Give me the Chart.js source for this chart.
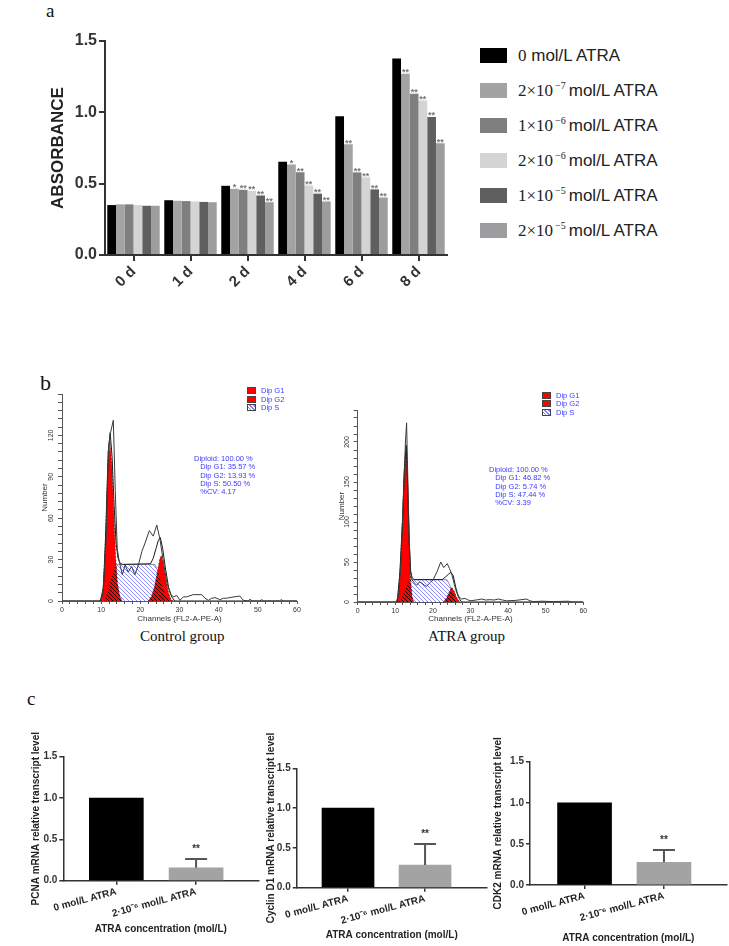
<!DOCTYPE html>
<html>
<head>
<meta charset="utf-8">
<title>ATRA proliferation figure</title>
<script src="https://cdn.jsdelivr.net/npm/chart.js@4.4.1/dist/chart.umd.min.js"></script>
<style>
  html,body{margin:0;padding:0;background:#fff;}
  body{position:relative;width:729px;height:946px;overflow:hidden;font-family:"Liberation Sans",Arial,sans-serif;}
  canvas{position:absolute;}
  .tag{position:absolute;font-family:"Liberation Serif","Times New Roman",serif;color:#111;line-height:1;}
  .leg{position:absolute;left:480px;height:16px;font-size:17px;color:#222;white-space:nowrap;line-height:16px;}
  .leg i{position:absolute;left:0;top:0;width:27px;height:15px;}
  .leg span{position:absolute;left:38px;top:0;}
  .leg b{font-family:"Liberation Serif","Times New Roman",serif;font-weight:normal;}
  .leg sup{font-size:10px;vertical-align:7px;line-height:0;font-family:"Liberation Serif",serif;margin:0 3px 0 2px;}
  .fc{position:absolute;font-size:7.5px;color:#3a3aff;line-height:8.3px;white-space:pre;}
  .fcl{position:absolute;font-size:7.5px;color:#3a3aff;line-height:8.5px;white-space:nowrap;}
  .fcl i{position:absolute;left:0;width:9px;height:7px;border:1px solid #444;box-sizing:border-box;}
  .cap{position:absolute;font-family:"Liberation Serif","Times New Roman",serif;font-size:15px;color:#111;white-space:nowrap;line-height:1;}
</style>
</head>
<body>
<div class="tag" style="left:46px;top:1px;font-size:19px;">a</div>
<canvas id="absChart" width="450" height="320" style="left:0;top:0"></canvas>
<div id="absLegend"></div>

<div class="tag" style="left:40px;top:372px;font-size:22px;">b</div>
<canvas id="ctrlHist" width="290" height="245" style="left:20px;top:380px"></canvas>
<canvas id="atraHist" width="290" height="245" style="left:310px;top:380px"></canvas>
<div id="ctrlLeg"></div><div id="atraLeg"></div>
<div id="ctrlStat" class="fc" style="left:194px;top:455px"></div>
<div id="atraStat" class="fc" style="left:489px;top:466px"></div>
<div class="cap" style="left:140px;top:629px">Control group</div>
<div class="cap" style="left:428px;top:629px">ATRA group</div>

<div class="tag" style="left:27px;top:689px;font-size:19px;">c</div>
<canvas id="pcnaChart" width="245" height="216" style="left:20px;top:730px"></canvas>
<canvas id="cycChart" width="240" height="216" style="left:250px;top:730px"></canvas>
<canvas id="cdkChart" width="249" height="216" style="left:480px;top:730px"></canvas>

<script>
// ---- panel a: absorbance (CCK-8) ----
const days = ['0 d', '1 d', '2 d', '4 d', '6 d', '8 d'];
const doseCoef = ['0', '2×10', '1×10', '2×10', '1×10', '2×10'];
const doseExp = ['', '−7', '−6', '−6', '−5', '−5'];
const abs0   = [0.35, 0.384, 0.485, 0.654, 0.973, 1.378];
const abs2e7 = [0.355, 0.38, 0.464, 0.635, 0.776, 1.27];
const abs1e6 = [0.355, 0.378, 0.457, 0.58, 0.579, 1.13];
const abs2e6 = [0.35, 0.375, 0.45, 0.487, 0.544, 1.083];
const abs1e5 = [0.345, 0.372, 0.417, 0.43, 0.46, 0.968];
const abs2e5 = [0.345, 0.37, 0.37, 0.375, 0.403, 0.783];
const sig0   = ['', '', '', '', '', ''];
const sig2e7 = ['', '', '*', '*', '**', '**'];
const sig1e6 = ['', '', '**', '**', '**', '**'];
const sig2e6 = ['', '', '**', '**', '**', '**'];
const sig1e5 = ['', '', '**', '**', '**', '**'];
const sig2e5 = ['', '', '**', '**', '**', '**'];

// ---- panel b: DNA content histograms, [channel, count] ----
const ctrlRaw = [[0,0],[9.6,0],[10.4,4],[11.2,40],[11.9,112],[12.4,122],[13.1,131],[13.6,80],[14.1,38],[14.6,29],[15.4,19],[16.1,26],[16.9,21],[17.8,25],[18.6,19],[19.5,26],[20.4,36],[21.2,42],[22.3,51],[23.3,47],[24.2,55],[25.0,45],[25.9,28],[26.8,13],[27.7,5],[28.4,3],[29.3,4],[30.1,0.5],[31.0,3],[31.8,3],[33.5,4.6],[35.7,4.6],[36.5,2],[37.4,0.5],[38.2,2],[39.1,2.4],[40.3,1],[41.2,2],[42.0,2],[43.7,2.9],[45.4,3.6],[46.3,0.5],[47.5,0],[48.0,1.2],[48.6,0],[50.5,0],[51.0,1],[51.5,0],[55.5,0],[56.0,1],[56.5,0],[60,0]];
const ctrlFit = [[0,0],[9.8,0],[10.6,10],[11.2,52],[11.8,108],[12.3,122],[12.8,104],[13.3,70],[13.8,42],[14.3,31],[14.8,27.5],[15.5,26.5],[22.6,27],[23.3,31],[24.0,38],[24.6,44],[25.1,46],[25.7,38],[26.4,24],[27.2,10],[28.0,3],[28.8,0],[60,0]];
const ctrlG1 = [[9.9,0],[10.5,8],[11.1,45],[11.7,100],[12.25,115],[12.7,100],[13.2,66],[13.7,32],[14.2,12],[14.8,3],[15.4,0]];
const ctrlG2 = [[22.0,0],[22.8,3],[23.6,10],[24.4,22],[25.0,31],[25.4,33],[25.9,27],[26.5,16],[27.2,6],[27.8,1],[28.5,0]];
const ctrlS  = [[10.8,0],[11.8,8],[12.8,19],[13.6,25.5],[14.1,26.5],[23.7,26.5],[24.4,22],[25.2,14],[26.0,7],[26.8,2],[27.6,0]];
const ctrlOv1 = [[10.8,0],[11.8,8],[12.8,19],[13.6,25.5],[13.85,25],[14.2,12],[14.8,3],[15.4,0]];
const ctrlOv2 = [[22.0,0],[22.8,3],[23.6,10],[24.4,22],[25.2,14],[26.0,7],[26.8,2],[27.6,0]];
const ctrlStats = ['Diploid: 100.00 %', '   Dip G1: 35.57 %', '   Dip G2: 13.93 %', '   Dip S: 50.50 %', '   %CV: 4.17'];

const atraRaw = [[0,0],[10.2,0],[10.9,8],[11.6,60],[12.3,150],[12.7,200],[13.0,224],[13.3,160],[13.7,80],[14.0,40],[14.3,29],[15.0,24],[15.7,21],[16.4,25],[17.0,24],[17.7,21],[18.3,19.5],[19.2,24],[20.1,28],[21.1,38],[22.1,50],[22.9,43],[23.8,48],[24.4,42],[25.0,35],[25.7,22],[26.3,12],[27.0,6],[27.7,3.7],[28.5,4.5],[29.2,3],[29.9,1.5],[31.5,2.5],[33.0,3.7],[34.0,2.5],[35.2,2.9],[36.3,2.5],[37.4,3.7],[38.5,2.5],[39.6,1.5],[42.0,2],[44.9,3.7],[45.8,1.5],[46.7,0.5],[49.0,1],[52.0,0.5],[56.0,1],[57.0,0],[60,0]];
const atraFit = [[0,0],[10.5,0],[11.2,35],[11.9,100],[12.4,165],[12.9,196],[13.3,145],[13.7,75],[14.1,38],[14.5,30],[15.0,28],[22.5,28],[23.3,31],[24.2,35],[24.8,37],[25.4,33],[26.1,18],[26.8,6],[27.6,0],[60,0]];
const atraG1 = [[10.6,0],[11.3,40],[11.9,100],[12.4,160],[12.9,191],[13.3,140],[13.7,70],[14.1,25],[14.5,6],[14.9,0]];
const atraG2 = [[22.8,0],[23.6,5],[24.3,12],[25.0,18.5],[25.6,14],[26.3,6],[27.0,1],[27.4,0]];
const atraS  = [[11.0,0],[12.0,8],[13.0,20],[13.9,27.8],[23.7,27.8],[24.4,22],[25.2,12],[26.0,5],[26.8,0]];
const atraOv1 = [[11.0,0],[12.0,8],[13.0,20],[13.9,27.8],[14.05,27.5],[14.5,6],[14.9,0]];
const atraOv2 = [[22.8,0],[23.6,5],[24.3,12],[24.85,17],[25.2,12],[26.0,5],[26.8,0]];
const atraStats = ['Diploid: 100.00 %', '   Dip G1: 46.82 %', '   Dip G2: 5.74 %', '   Dip S: 47.44 %', '   %CV: 3.39'];
const phaseNames = ['Dip G1', 'Dip G2', 'Dip S'];

// ---- panel c: qPCR ----
const groups = ['0 mol/L ATRA', '2·10⁻⁶ mol/L ATRA'];
const groupPos = [1, 2];
const pcnaMean = [1.0, 0.157];
const pcnaErr  = [0, 0.105];
const cycMean  = [1.0, 0.285];
const cycErr   = [0, 0.264];
const cdkMean  = [1.0, 0.276];
const cdkErr   = [0, 0.15];
const qSig = ['', '**'];

const FONT = '"Liberation Sans", Arial, sans-serif';
Chart.defaults.font.family = FONT;
Chart.defaults.color = '#222';

// stars above the absorbance bars
const starMarks = {
  id: 'starMarks',
  afterDatasetsDraw(chart) {
    const ctx = chart.ctx;
    ctx.save();
    ctx.font = 'bold 9px ' + FONT;
    ctx.fillStyle = '#777';
    ctx.textAlign = 'center';
    ctx.textBaseline = 'alphabetic';
    chart.data.datasets.forEach((ds, i) => {
      chart.getDatasetMeta(i).data.forEach((bar, j) => {
        if (ds.sig[j]) ctx.fillText(ds.sig[j], bar.x, bar.y + 1.5);
      });
    });
    ctx.restore();
  }
};

const absColors = ['#000000', '#a3a3a3', '#7f7f7f', '#d4d4d4', '#5f5f5f', '#9d9d9f'];
const absSeries = [abs0, abs2e7, abs1e6, abs2e6, abs1e5, abs2e5];
const absSig = [sig0, sig2e7, sig1e6, sig2e6, sig1e5, sig2e5];

const absChart = new Chart(document.getElementById('absChart'), {
  type: 'bar',
  data: {
    labels: days,
    datasets: absSeries.map((vals, i) => ({
      label: doseCoef[i] + (doseExp[i] ? '^' + doseExp[i] : '') + ' mol/L ATRA',
      data: vals,
      backgroundColor: absColors[i],
      sig: absSig[i],
      categoryPercentage: 0.92,
      barPercentage: 1
    }))
  },
  options: {
    responsive: false,
    animation: false,
    layout: { padding: { top: 41, right: 3, left: 0, bottom: 0 } },
    plugins: { legend: { display: false }, tooltip: { enabled: false } },
    scales: {
      x: {
        grid: { drawOnChartArea: false, offset: false, tickLength: 6, lineWidth: 2, color: '#333' },
        border: { color: '#333', width: 2 },
        ticks: { color: '#333', font: { size: 15, weight: 'bold' }, minRotation: 45, maxRotation: 45, padding: 2 },
        afterFit: s => { s.height = 65; }
      },
      y: {
        min: 0, max: 1.5,
        ticks: { stepSize: 0.5, callback: v => v.toFixed(1), color: '#333', font: { size: 16, weight: 'bold' }, padding: 2 },
        grid: { drawOnChartArea: false, tickLength: 6, lineWidth: 2, color: '#333' },
        border: { color: '#333', width: 2 },
        title: { display: true, text: 'ABSORBANCE', color: '#222', font: { size: 17, weight: 'bold' }, padding: { top: 48 } },
        afterFit: s => { s.width = 105; }
      }
    }
  },
  plugins: [starMarks]
});

const absLegend = document.getElementById('absLegend');
absChart.data.datasets.forEach((ds, i) => {
  const d = document.createElement('div');
  d.className = 'leg';
  d.style.top = (48 + i * 35) + 'px';
  d.innerHTML = '<i style="background:' + ds.backgroundColor + '"></i><span><b>' + doseCoef[i] + '</b>' +
    (doseExp[i] ? '<sup>' + doseExp[i] + '</sup>' : ' ') + 'mol/L ATRA</span>';
  absLegend.appendChild(d);
});

// ---- histograms ----
function hatch(ctx, color, bg) {
  const c = document.createElement('canvas');
  c.width = 4; c.height = 4;
  const g = c.getContext('2d');
  if (bg) { g.fillStyle = bg; g.fillRect(0, 0, 4, 4); }
  g.strokeStyle = color; g.lineWidth = 0.9;
  g.beginPath();
  g.moveTo(-1, -1); g.lineTo(5, 5);
  g.moveTo(-1, 3); g.lineTo(1, 5);
  g.moveTo(3, -1); g.lineTo(5, 1);
  g.stroke();
  return ctx.createPattern(c, 'repeat');
}

const rotTicks = {
  id: 'rotTicks',
  afterDraw(chart, args, opts) {
    const ys = chart.scales.y, ctx = chart.ctx;
    ctx.save();
    ctx.fillStyle = '#333';
    ctx.font = '7px ' + FONT;
    ctx.textAlign = 'center';
    ctx.textBaseline = 'middle';
    ys.ticks.forEach(t => {
      if (t.value % opts.every !== 0 || t.value >= ys.max) return;
      ctx.save();
      ctx.translate(ys.right - 10.5, ys.getPixelForValue(t.value));
      ctx.rotate(-Math.PI / 2);
      ctx.fillText(String(t.value), 0, 0);
      ctx.restore();
    });
    ctx.restore();
  }
};

const pts = a => a.map(p => ({ x: p[0], y: p[1] }));

function histChart(id, s, o) {
  const ctx = document.getElementById(id).getContext('2d');
  const blueHatch = hatch(ctx, '#7f7fff', '#ffffff');
  const blackHatch = hatch(ctx, '#000000', null);
  return new Chart(ctx, {
    type: 'line',
    data: {
      datasets: [
        { label: 'Data', data: pts(s.raw), borderColor: '#3a3a3a', borderWidth: 1, fill: false },
        { label: 'Fit', data: pts(s.fit), borderColor: '#1a1a1a', borderWidth: 1, fill: false },
        { label: 'G1 in S', data: pts(s.ov1), borderWidth: 0, backgroundColor: blackHatch, fill: 'origin' },
        { label: 'G2 in S', data: pts(s.ov2), borderWidth: 0, backgroundColor: blackHatch, fill: 'origin' },
        { label: phaseNames[0], data: pts(s.g1), borderColor: '#333', borderDash: [1.5, 2], borderWidth: 0.8, backgroundColor: '#ff0000', fill: 'origin' },
        { label: phaseNames[1], data: pts(s.g2), borderColor: '#333', borderDash: [1.5, 2], borderWidth: 0.8, backgroundColor: '#ff0000', fill: 'origin' },
        { label: phaseNames[2], data: pts(s.s), borderColor: '#777', borderWidth: 0.8, backgroundColor: blueHatch, fill: 'origin' }
      ]
    },
    options: {
      responsive: false,
      animation: false,
      elements: { point: { radius: 0 }, line: { tension: 0 } },
      layout: { padding: o.pad },
      plugins: { legend: { display: false }, tooltip: { enabled: false }, rotTicks: { every: o.labelStep } },
      scales: {
        x: {
          type: 'linear', min: 0, max: 60,
          ticks: { stepSize: 2, autoSkip: false, maxRotation: 0, callback: v => (v % 10 === 0 ? v : ''), font: { size: 7 }, color: '#333', padding: 2 },
          grid: { drawOnChartArea: false, tickLength: 3, color: '#555' },
          border: { color: '#555' },
          title: { display: true, text: 'Channels (FL2-A-PE-A)', font: { size: 8 }, color: '#333', padding: { top: 0, bottom: 1 } },
          afterFit: sc => { sc.height = o.xh; }
        },
        y: {
          min: 0, max: o.ymax,
          ticks: { display: false, stepSize: o.yStep },
          grid: { drawOnChartArea: false, tickLength: 4, color: '#555' },
          border: { color: '#555' },
          title: { display: true, text: 'Number', font: { size: 8 }, color: '#333', padding: { top: o.ytp } },
          afterFit: sc => { sc.width = o.yw; }
        }
      }
    },
    plugins: [rotTicks]
  });
}

const ctrlHist = histChart('ctrlHist',
  { raw: ctrlRaw, fit: ctrlFit, g1: ctrlG1, g2: ctrlG2, s: ctrlS, ov1: ctrlOv1, ov2: ctrlOv2 },
  { pad: { left: 0, top: 14, right: 13, bottom: 0 }, xh: 24, yw: 42, ymax: 150, yStep: 6, labelStep: 30, ytp: 20 });
const atraHist = histChart('atraHist',
  { raw: atraRaw, fit: atraFit, g1: atraG1, g2: atraG2, s: atraS, ov1: atraOv1, ov2: atraOv2 },
  { pad: { left: 0, top: 30, right: 16.7, bottom: 0 }, xh: 23, yw: 47.7, ymax: 240, yStep: 10, labelStep: 50, ytp: 27 });

function histLegend(el, left, top) {
  const box = document.getElementById(el);
  phaseNames.forEach((n, i) => {
    const d = document.createElement('div');
    d.className = 'fcl';
    d.style.left = left + 'px';
    d.style.top = (top + i * 8.5) + 'px';
    const bg = i < 2 ? 'background:#ff0000' : 'background:repeating-linear-gradient(45deg,#fff 0 1.6px,#7f7fff 1.6px 2.6px)';
    d.innerHTML = '<i style="' + bg + '"></i><span style="margin-left:14px">' + n + '</span>';
    box.appendChild(d);
  });
}
histLegend('ctrlLeg', 247, 387);
histLegend('atraLeg', 542, 391.5);
document.getElementById('ctrlStat').textContent = ctrlStats.join('\n');
document.getElementById('atraStat').textContent = atraStats.join('\n');

// ---- qPCR bar charts ----
const errBars = {
  id: 'errBars',
  afterDatasetsDraw(chart) {
    const ctx = chart.ctx, ys = chart.scales.y;
    chart.data.datasets.forEach((ds, i) => {
      chart.getDatasetMeta(i).data.forEach((bar, j) => {
        const e = ds.err[j];
        if (!e) return;
        const yTop = ys.getPixelForValue(ds.data[j].y + e);
        ctx.save();
        ctx.strokeStyle = '#555';
        ctx.lineWidth = 2;
        ctx.beginPath();
        ctx.moveTo(bar.x, bar.y); ctx.lineTo(bar.x, yTop);
        ctx.moveTo(bar.x - 11, yTop); ctx.lineTo(bar.x + 11, yTop);
        ctx.stroke();
        if (ds.sig[j]) {
          ctx.fillStyle = '#333';
          ctx.font = 'bold 10px ' + FONT;
          ctx.textAlign = 'center';
          ctx.textBaseline = 'alphabetic';
          ctx.fillText(ds.sig[j], bar.x, yTop - 7);
        }
        ctx.restore();
      });
    });
  }
};

function qpcrChart(id, yTitle, mean, err, o) {
  return new Chart(document.getElementById(id), {
    type: 'bar',
    data: {
      datasets: [{
        data: groupPos.map((x, i) => ({ x: x, y: mean[i] })),
        err: err,
        sig: qSig,
        backgroundColor: ['#000000', '#a3a3a3'],
        barThickness: o.bw
      }]
    },
    options: {
      responsive: false,
      animation: false,
      layout: { padding: o.pad },
      plugins: { legend: { display: false }, tooltip: { enabled: false } },
      scales: {
        x: {
          type: 'linear', offset: false, min: o.xmin, max: o.xmax,
          afterBuildTicks: sc => { sc.ticks = groupPos.map(v => ({ value: v })); },
          ticks: { callback: (v, i) => groups[i], minRotation: 15, maxRotation: 15, autoSkip: false, color: '#222', font: { size: 10, weight: 'bold' }, padding: 1 },
          grid: { drawOnChartArea: false, offset: false, tickLength: 4, lineWidth: 1.5, color: '#333' },
          border: { color: '#333', width: 1.5 },
          title: { display: true, text: 'ATRA concentration (mol/L)', color: '#222', font: { size: 10, weight: 'bold' }, padding: { top: 0, bottom: o.xtp } },
          afterFit: sc => { sc.height = o.xh; }
        },
        y: {
          min: 0, max: 1.5,
          ticks: { stepSize: 0.5, callback: v => v.toFixed(1), color: '#333', font: { size: 10, weight: 'bold' }, padding: 2 },
          grid: { drawOnChartArea: false, tickLength: 4, lineWidth: 1.5, color: '#333' },
          border: { color: '#333', width: 1.5 },
          title: { display: true, text: yTitle, color: '#222', font: { size: 10, weight: 'bold' }, padding: { top: o.ytp } },
          afterFit: sc => { sc.width = o.yw; }
        }
      }
    },
    plugins: [errBars]
  });
}

qpcrChart('pcnaChart', 'PCNA mRNA relative transcript level', pcnaMean, pcnaErr,
  { pad: { left: 0, top: 26.7, right: 6.7, bottom: 0 }, yw: 43.3, xh: 65.3, ytp: 10, xtp: 11, xmin: 0.335, xmax: 2.78, bw: 54 });
qpcrChart('cycChart', 'Cyclin D1 mRNA relative transcript level', cycMean, cycErr,
  { pad: { left: 0, top: 38.3, right: 3.3, bottom: 0 }, yw: 46.7, xh: 58.3, ytp: 15.7, xtp: 5, xmin: 0.334, xmax: 2.80, bw: 52 });
qpcrChart('cdkChart', 'CDK2 mRNA relative transcript level', cdkMean, cdkErr,
  { pad: { left: 0, top: 31.7, right: 2.3, bottom: 0 }, yw: 50, xh: 61, ytp: 12, xtp: 2, xmin: 0.313, xmax: 2.79, bw: 54 });
</script>
</body>
</html>
